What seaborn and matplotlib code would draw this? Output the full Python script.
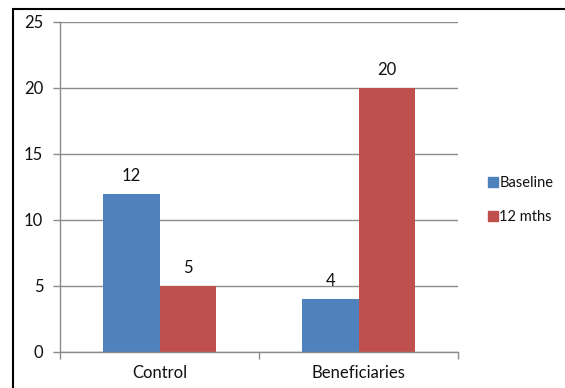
import matplotlib
matplotlib.use("Agg")
import matplotlib.pyplot as plt
import matplotlib.patches as mpatches
import seaborn as sns
import pandas as pd

groups = ["Control", "Beneficiaries"]
series = ["Baseline", "12 mths"]
baseline = [12, 4]
twelve_months = [5, 20]
y_ticks = [0, 5, 10, 15, 20, 25]
colors = ["#4F81BD", "#C0504D"]

df = pd.DataFrame({
    "group": groups * 2,
    "series": [series[0]] * 2 + [series[1]] * 2,
    "value": baseline + twelve_months,
})

sns.set_theme(style="white")
plt.rcParams["font.family"] = ["Lato", "DejaVu Sans"]

fig = plt.figure(figsize=(5.65, 3.88), dpi=100)
ax = fig.add_axes([60 / 565, 1 - 352 / 388, 398 / 565, 330 / 388])

sns.barplot(data=df, x="group", y="value", hue="series", order=groups,
            hue_order=series, palette=colors, width=0.57, saturation=1,
            linewidth=0, ax=ax, legend=False)

grid_c = "#8C8C8C"
text_c = "#111111"
ax.set_ylim(0, 25)
ax.set_xlim(-0.5, 1.5)
ax.set_yticks(y_ticks)
ax.set_yticklabels([str(t) for t in y_ticks], fontsize=12, color=text_c)
ax.yaxis.grid(True, color=grid_c, linewidth=1)
ax.set_axisbelow(True)
ax.tick_params(axis="y", which="major", length=5, width=1, color=grid_c, pad=7, left=True)

ax.set_xticks([0, 1])
ax.set_xticklabels(groups, fontsize=12, color=text_c)
ax.tick_params(axis="x", which="major", length=0, pad=9)
ax.set_xticks([-0.5, 0.5, 1.5], minor=True)
ax.tick_params(axis="x", which="minor", length=5, width=1, color=grid_c, bottom=True)
ax.set_xlabel("")
ax.set_ylabel("")

for side in ["top", "right"]:
    ax.spines[side].set_visible(False)
for side in ["left", "bottom"]:
    ax.spines[side].set_color(grid_c)
    ax.spines[side].set_linewidth(1)

for container in ax.containers:
    ax.bar_label(container, labels=[f"{v:g}" for v in container.datavalues],
                 padding=7, fontsize=12, color=text_c)

handles = [mpatches.Patch(color=c, label=s) for c, s in zip(colors, series)]
leg = fig.legend(handles=handles, loc="center left",
                 bbox_to_anchor=(481 / 565, 1 - 200 / 388), frameon=False,
                 fontsize=10.5, handlelength=0.65, handleheight=0.65,
                 handletextpad=0.1, labelspacing=1.35, borderpad=0,
                 labelcolor=text_c)

# outer chart frame
fig.patches.append(mpatches.Rectangle((13 / 565, -0.1), 1.2, 1 - 9 / 388 + 0.1,
                                      transform=fig.transFigure, fill=False,
                                      edgecolor="black", linewidth=1.5))

fig.savefig("out.png", dpi=100)
